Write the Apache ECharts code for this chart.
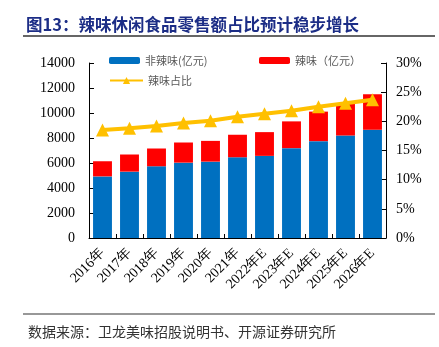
<!DOCTYPE html>
<html><head><meta charset="utf-8">
<script src="https://cdn.jsdelivr.net/npm/echarts@6/dist/echarts.min.js"></script>
<style>html,body{margin:0;padding:0;background:#fff}#c{width:439px;height:347px}</style>
</head><body><div id="c"></div>
<script>
const categories = ['2016年','2017年','2018年','2019年','2020年','2021年','2022年E','2023年E','2024年E','2025年E','2026年E'];
const nonSpicy = [4930, 5310, 5740, 6030, 6110, 6460, 6570, 7190, 7750, 8200, 8660];
const spicy = [1210, 1370, 1420, 1610, 1660, 1800, 1900, 2140, 2360, 2580, 2840];
const spicyShare = [18.5, 18.8, 19.2, 19.7, 20.1, 20.8, 21.3, 21.8, 22.5, 23.1, 23.7];
const leftTicks = [0, 14000, 2000];
const rightTicks = [0, 30, 5];

const serif = '"Liberation Serif","Times New Roman",serif';
const cjk = '"Noto Sans CJK SC",sans-serif';
const chart = echarts.init(document.getElementById('c'));
chart.setOption({
  animation: false,
  title: [{
    text: '图13：辣味休闲食品零售额占比预计稳步增长',
    left: 21, top: 11,
    textStyle: {fontFamily: cjk, fontSize: 16.5, fontWeight: 'bold', color: '#1c2d86'}
  }, {
    text: '数据来源：卫龙美味招股说明书、开源证券研究所',
    left: 23, top: 320,
    textStyle: {fontFamily: cjk, fontSize: 14, fontWeight: 'normal', color: '#333'}
  }],
  graphic: [
    {type: 'line', shape: {x1: 23, y1: 36, x2: 435, y2: 36}, style: {stroke: '#333', lineWidth: 1.5}},
    {type: 'line', shape: {x1: 23, y1: 314, x2: 435, y2: 314}, style: {stroke: '#333', lineWidth: 1.2}}
  ],
  legend: [
    {data: ['非辣味(亿元)'], left: 104, top: 50, itemWidth: 31, itemHeight: 7, itemGap: 4,
     textStyle: {fontFamily: cjk, fontSize: 11, color: '#595959'}},
    {data: ['辣味（亿元）'], left: 254, top: 50, itemWidth: 31, itemHeight: 7, itemGap: 4,
     textStyle: {fontFamily: cjk, fontSize: 11, color: '#595959'}},
    {data: ['辣味占比'], left: 104, top: 70, itemWidth: 33, itemHeight: 9, itemGap: 4,
     textStyle: {fontFamily: cjk, fontSize: 11, color: '#595959'}}
  ],
  grid: {left: 89, right: 53, top: 63, bottom: 109},
  xAxis: {
    type: 'category', data: categories,
    axisLine: {lineStyle: {color: '#000', width: 1}},
    axisTick: {show: true, inside: true, length: 4, alignWithLabel: false, lineStyle: {color: '#000'}},
    axisLabel: {rotate: 45, fontFamily: serif, fontSize: 14, color: '#000', margin: 13, interval: 0}
  },
  yAxis: [{
    type: 'value', min: leftTicks[0], max: leftTicks[1], interval: leftTicks[2],
    axisLine: {show: true, lineStyle: {color: '#000'}},
    axisTick: {show: true, inside: true, length: 5, lineStyle: {color: '#000'}},
    splitLine: {show: false},
    axisLabel: {fontFamily: serif, fontSize: 14, color: '#000', margin: 14, formatter: v => String(v)}
  }, {
    type: 'value', min: rightTicks[0], max: rightTicks[1], interval: rightTicks[2],
    position: 'right',
    axisLine: {show: true, lineStyle: {color: '#000'}},
    axisTick: {show: true, inside: true, length: 5, lineStyle: {color: '#000'}},
    splitLine: {show: false},
    axisLabel: {fontFamily: serif, fontSize: 14, color: '#000', margin: 10, formatter: '{value}%'}
  }],
  series: [{
    name: '非辣味(亿元)', type: 'bar', stack: 'a', data: nonSpicy, barWidth: '70%',
    itemStyle: {color: '#0070C0'}
  }, {
    name: '辣味（亿元）', type: 'bar', stack: 'a', data: spicy,
    itemStyle: {color: '#FF0000'}
  }, {
    name: '辣味占比', type: 'line', yAxisIndex: 1, data: spicyShare,
    symbol: 'triangle', symbolSize: 13,
    lineStyle: {color: '#FFC000', width: 4},
    itemStyle: {color: '#FFC000'}
  }]
});
</script></body></html>
